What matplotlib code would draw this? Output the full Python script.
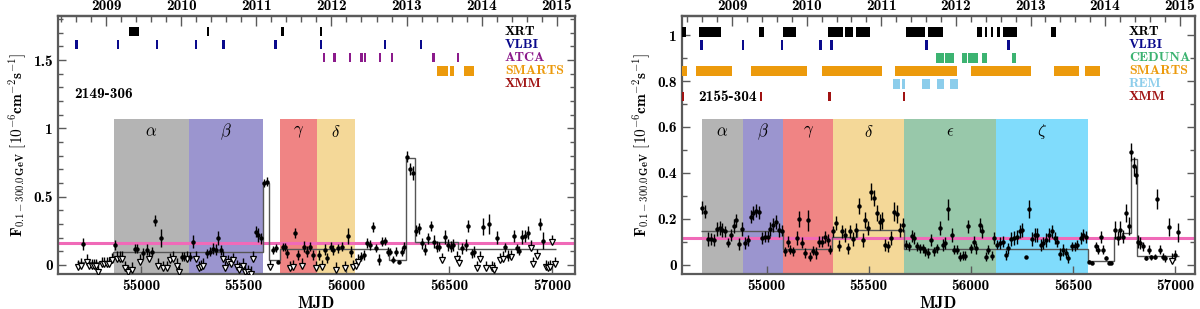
import numpy as np
import matplotlib
matplotlib.use("Agg")
import matplotlib.pyplot as plt
from matplotlib.ticker import MultipleLocator, FixedLocator, FuncFormatter

plt.rcParams['font.family'] = ['cmb10', 'DejaVu Serif']
plt.rcParams['mathtext.fontset'] = 'cm'
plt.rcParams['axes.unicode_minus'] = False

# ---------------- data: 2149-306 (left) ----------------
l_det_mjd = [54719, 54873, 54971, 54982, 55011, 55028, 55055, 55068, 55097, 55198, 55209, 55239, 55252,
             55320, 55336, 55352, 55365, 55377, 55388, 55560, 55571, 55584, 55599, 55615, 55641, 55657,
             55669, 55690, 55701, 55713, 55750, 55766, 55795, 55807, 55823, 55836, 55867, 55896, 55907,
             55924, 55936, 55961, 55977, 56006, 56021, 56071, 56086, 56102, 56115, 56131, 56144, 56160,
             56175, 56188, 56201, 56212, 56229, 56242, 56258, 56271, 56282, 56297, 56310, 56326, 56339,
             56354, 56370, 56383, 56396, 56410, 56427, 56440, 56453, 56480, 56493, 56508, 56521, 56565,
             56581, 56594, 56610, 56623, 56664, 56693, 56733, 56774, 56789, 56816, 56829, 56842, 56857,
             56870, 56883, 56943, 56956]
l_det_flux = [0.151, 0.146, 0.12, 0.12, 0.085, 0.11, 0.098, 0.325, 0.195, 0.061, 0.061, 0.061, 0.171,
              0.085, 0.098, 0.12, 0.11, 0.195, 0.11, 0.244, 0.22, 0.195, 0.598, 0.61, 0.11, 0.122,
              0.02, 0.134, 0.134, 0.085, 0.232, 0.073, 0.134, 0.098, 0.134, 0.073, 0.073, 0.11, 0.049,
              0.134, 0.11, 0.122, 0.134, 0.212, 0.098, 0.061, 0.073, 0.159, 0.146, 0.276, 0.122, 0.037,
              0.171, 0.178, 0.098, 0.098, 0.037, 0.098, 0.024, 0.098, 0.134, 0.793, 0.70, 0.675, 0.251,
              0.268, 0.159, 0.11, 0.195, 0.286, 0.171, 0.134, 0.134, 0.207, 0.146, 0.134, 0.146, 0.122,
              0.146, 0.286, 0.085, 0.098, 0.281, 0.30, 0.20, 0.129, 0.066, 0.212, 0.122, 0.105, 0.203,
              0.212, 0.237, 0.30, 0.178]
l_det_err = [0.045, 0.04, 0.035, 0.035, 0.04, 0.04, 0.035, 0.04, 0.065, 0.035, 0.035, 0.035, 0.045,
             0.035, 0.035, 0.04, 0.04, 0.05, 0.035, 0.04, 0.05, 0.04, 0.03, 0.035, 0.03, 0.03,
             0.0, 0.03, 0.03, 0.035, 0.035, 0.04, 0.04, 0.04, 0.035, 0.035, 0.04, 0.04, 0.035,
             0.035, 0.035, 0.035, 0.035, 0.055, 0.04, 0.035, 0.035, 0.035, 0.035, 0.035, 0.03, 0.04,
             0.035, 0.03, 0.03, 0.025, 0.025, 0.03, 0.0, 0.03, 0.035, 0.04, 0.045, 0.05, 0.04,
             0.04, 0.04, 0.04, 0.04, 0.035, 0.045, 0.04, 0.035, 0.05, 0.045, 0.04, 0.045, 0.04,
             0.045, 0.045, 0.035, 0.04, 0.06, 0.07, 0.045, 0.035, 0.04, 0.045, 0.035, 0.035, 0.05,
             0.045, 0.045, 0.045, 0.06]
l_ul_mjd = [54695, 54706, 54735, 54748, 54760, 54773, 54781, 54792, 54808, 54821, 54833, 54846, 54860,
            54885, 54898, 54906, 54922, 54938, 54955, 54995, 55041, 55084, 55109, 55125, 55141, 55157,
            55174, 55185, 55222, 55268, 55281, 55292, 55303, 55398, 55411, 55425, 55437, 55450, 55466,
            55479, 55495, 55506, 55523, 55534, 55547, 55628, 55725, 55738, 55782, 55852, 55880, 55949,
            55993, 56034, 56045, 56058, 56467, 56537, 56550, 56634, 56651, 56678, 56707, 56720, 56748,
            56761, 56802, 56897, 56910, 56927, 56970, 56980, 56991, 56999, 57016]
l_ul_val = [0.04, 0.05, 0.08, 0.045, 0.045, 0.045, 0.045, 0.0, 0.06, 0.06, 0.06, 0.06, 0.09,
            0.1, 0.1, 0.1, 0.03, 0.0, 0.02, 0.08, 0.1, 0.05, 0.03, 0.03, 0.09, 0.1,
            0.05, 0.0, 0.1, 0.1, 0.03, 0.04, 0.05, 0.1, 0.03, 0.075, 0.065, 0.09, 0.04,
            0.02, 0.05, 0.005, 0.0, -0.01, 0.1, 0.04, 0.03, 0.04, 0.05, 0.03, 0.04, 0.02,
            0.03, 0.04, 0.05, 0.08, 0.09, 0.1, 0.07, 0.03, 0.1, 0.03, 0.03, 0.02, 0.09,
            0.1, 0.11, 0.18, 0.06, 0.12, 0.04, 0.03, 0.04, 0.22, 0.06]
l_block_edges = [54690, 54866, 55596, 55622, 55675, 56205, 56290, 56335, 56545, 57020]
l_block_levels = [0.025, 0.092, 0.60, 0.035, 0.115, 0.04, 0.78, 0.165, 0.12]
l_mean = 0.163
l_periods = [(r'$\alpha$', 54869, 55234, '#b4b4b4'), (r'$\beta$', 55234, 55594, '#9b95cf'),
             (r'$\gamma$', 55677, 55857, '#f08484'), (r'$\delta$', 55857, 56042, '#f4d898')]
l_obs = [
    ('XRT', '#000000', [(54946, 54985), (55327, 55327), (55690, 55690), (55876, 55876)]),
    ('VLBI', '#0a0a8c', [(54687, 54687), (54887, 54887), (55079, 55079), (55268, 55268), (55401, 55401),
                         (55654, 55654), (55876, 55876), (56188, 56188), (56363, 56363)]),
    ('ATCA', '#8b1a8b', [(55892, 55892), (55941, 55941), (56018, 56018), (56074, 56074), (56090, 56090),
                         (56164, 56164), (56223, 56223), (56423, 56423), (56542, 56542)]),
    ('SMARTS', '#ec9a0c', [(56447, 56491), (56512, 56520), (56577, 56615)]),
    ('XMM', '#a01212', []),
]
l_obs_y = [1.708, 1.612, 1.516, 1.420, 1.324]

# ---------------- data: 2155-304 (right) ----------------
r_det_mjd = [54685, 54700, 54713, 54726, 54742, 54757, 54770, 54783, 54795, 54811, 54824, 54839, 54852,
             54865, 54881, 54896, 54909, 54922, 54936, 54949, 54962, 54979, 54993, 55006, 55019, 55034,
             55047, 55063, 55076, 55091, 55104, 55117, 55130, 55148, 55161, 55174, 55189, 55202, 55215,
             55230, 55242, 55259, 55272, 55286, 55300, 55311, 55327, 55340, 55357, 55370, 55384, 55397,
             55410, 55425, 55438, 55454, 55471, 55484, 55498, 55513, 55526, 55541, 55554, 55567, 55581,
             55594, 55609, 55622, 55638, 55653, 55666, 55683, 55696, 55710, 55723, 55736, 55751, 55764,
             55777, 55792, 55805, 55818, 55834, 55849, 55862, 55875, 55891, 55906, 55920, 55934, 55948,
             55960, 55973, 55989, 56002, 56015, 56028, 56044, 56057, 56074, 56087, 56103, 56116, 56131,
             56144, 56158, 56171, 56184, 56199, 56212, 56225, 56240, 56253, 56269, 56285, 56302, 56313,
             56326, 56342, 56354, 56370, 56383, 56396, 56411, 56424, 56437, 56452, 56465, 56478, 56494,
             56509, 56522, 56538, 56551, 56566, 56579, 56595, 56611, 56623, 56636, 56649, 56663, 56676,
             56689, 56706, 56720, 56733, 56748, 56761, 56774, 56787, 56800, 56809, 56818, 56831, 56844,
             56859, 56872, 56885, 56900, 56914, 56929, 56942, 56953, 56970, 56999, 57015]
r_det_flux = [0.249, 0.232, 0.112, 0.112, 0.109, 0.155, 0.159, 0.152, 0.145, 0.097, 0.13, 0.17, 0.193,
              0.091, 0.157, 0.094, 0.106, 0.21, 0.225, 0.236, 0.228, 0.116, 0.123, 0.123, 0.155, 0.174,
              0.188, 0.152, 0.149, 0.058, 0.101, 0.065, 0.058, 0.116, 0.199, 0.097, 0.051, 0.193, 0.036,
              0.062, 0.051, 0.101, 0.101, 0.12, 0.109, 0.065, 0.145, 0.181, 0.083, 0.145, 0.13, 0.072,
              0.145, 0.112, 0.152, 0.254, 0.109, 0.196, 0.159, 0.319, 0.29, 0.225, 0.188, 0.193, 0.087,
              0.08, 0.116, 0.232, 0.222, 0.152, 0.174, 0.087, 0.08, 0.126, 0.116, 0.08, 0.072, 0.072,
              0.058, 0.051, 0.109, 0.058, 0.072, 0.159, 0.087, 0.094, 0.242, 0.13, 0.065, 0.065, 0.036,
              0.039, 0.039, 0.167, 0.072, 0.101, 0.072, 0.174, 0.145, 0.036, 0.065, 0.039, 0.116, 0.087,
              0.094, 0.101, 0.043, 0.072, 0.112, 0.116, 0.12, 0.145, 0.152, 0.036, 0.242, 0.112, 0.13,
              0.13, 0.087, 0.094, 0.109, 0.13, 0.145, 0.116, 0.101, 0.048, 0.065, 0.051, 0.029, 0.08,
              0.08, 0.087, 0.116, 0.13, 0.12, 0.014, 0.01, 0.08, 0.065, 0.12, 0.065, 0.029, 0.01,
              0.007, 0.152, 0.116, 0.152, 0.123, 0.225, 0.17, 0.49, 0.428, 0.391, 0.101, 0.094, 0.08,
              0.029, 0.065, 0.033, 0.036, 0.286, 0.065, 0.036, 0.029, 0.164, 0.043, 0.141]
r_det_err = [0.03, 0.03, 0.03, 0.025, 0.025, 0.03, 0.03, 0.03, 0.025, 0.02, 0.025, 0.03, 0.03,
             0.025, 0.03, 0.025, 0.025, 0.03, 0.03, 0.03, 0.03, 0.025, 0.025, 0.025, 0.03, 0.03,
             0.03, 0.03, 0.025, 0.02, 0.025, 0.02, 0.02, 0.03, 0.035, 0.025, 0.02, 0.045, 0.02,
             0.02, 0.025, 0.025, 0.025, 0.025, 0.025, 0.02, 0.025, 0.03, 0.025, 0.03, 0.03, 0.025,
             0.03, 0.03, 0.03, 0.035, 0.03, 0.035, 0.03, 0.035, 0.035, 0.035, 0.035, 0.035, 0.025,
             0.025, 0.03, 0.04, 0.04, 0.03, 0.03, 0.02, 0.02, 0.025, 0.025, 0.02, 0.02, 0.02,
             0.02, 0.02, 0.025, 0.02, 0.02, 0.03, 0.025, 0.025, 0.045, 0.03, 0.02, 0.02, 0.02,
             0.02, 0.02, 0.03, 0.02, 0.025, 0.025, 0.03, 0.03, 0.02, 0.02, 0.02, 0.025, 0.02,
             0.025, 0.025, 0.02, 0.025, 0.03, 0.03, 0.03, 0.03, 0.03, 0.0, 0.04, 0.03, 0.03,
             0.03, 0.025, 0.025, 0.03, 0.03, 0.03, 0.025, 0.025, 0.025, 0.025, 0.02, 0.02, 0.02,
             0.02, 0.02, 0.025, 0.025, 0.025, 0.005, 0.005, 0.02, 0.02, 0.025, 0.02, 0.01, 0.005,
             0.005, 0.04, 0.03, 0.04, 0.03, 0.04, 0.04, 0.04, 0.04, 0.04, 0.03, 0.025, 0.02,
             0.01, 0.02, 0.01, 0.01, 0.045, 0.02, 0.015, 0.015, 0.04, 0.02, 0.04]
r_ul_mjd = [56986]
r_ul_val = [0.05]
r_block_edges = [54680, 55082, 55322, 55445, 55675, 56575, 56700, 56740, 56783, 56815, 57020]
r_block_levels = [0.149, 0.068, 0.12, 0.152, 0.07, 0.015, 0.12, 0.137, 0.46, 0.04]
r_mean = 0.116
r_periods = [(r'$\alpha$', 54683, 54884, '#b4b4b4'), (r'$\beta$', 54884, 55083, '#9b95cf'),
             (r'$\gamma$', 55083, 55324, '#f08484'), (r'$\delta$', 55324, 55675, '#f4d898'),
             (r'$\epsilon$', 55675, 56123, '#98c8aa'), (r'$\zeta$', 56123, 56574, '#80dcfc')]
r_obs = [
    ('XRT', '#000000', [(54588, 54600), (54677, 54713), (54716, 54740), (54744, 54770), (54971, 54982),
                        (55088, 55110), (55113, 55137), (55305, 55335), (55338, 55352), (55355, 55370),
                        (55390, 55399), (55409, 55419), (55446, 55465), (55468, 55482), (55485, 55500),
                        (55690, 55745), (55748, 55772), (55797, 55805), (55809, 55816), (55826, 55840),
                        (55844, 55859), (56038, 56049), (56074, 56074), (56105, 56105), (56137, 56137),
                        (56163, 56192), (56196, 56223), (56399, 56411)]),
    ('VLBI', '#0a0a8c', [(54681, 54681), (54884, 54884), (55075, 55075), (55264, 55264), (55319, 55319),
                         (55783, 55783), (56184, 56184)]),
    ('CEDUNA', '#3cb371', [(55837, 55848), (55853, 55865), (55881, 55892), (55898, 55911), (55963, 55976),
                           (55992, 56008), (56017, 56028), (56062, 56074), (56207, 56215)]),
    ('SMARTS', '#ec9a0c', [(54583, 54604), (54661, 54827), (54928, 55194), (55279, 55561), (55635, 55927),
                           (56008, 56110), (56113, 56240), (56245, 56289), (56413, 56510), (56516, 56522),
                           (56566, 56628)]),
    ('REM', '#8ccdeb', [(55626, 55632), (55640, 55646), (55668, 55674), (55769, 55780), (55785, 55797),
                        (55842, 55852), (55856, 55865), (55906, 55916), (55920, 55930)]),
    ('XMM', '#a01212', [(54591, 54591), (54974, 54974), (55308, 55308), (55674, 55674)]),
]
r_obs_y = [1.012, 0.957, 0.900, 0.845, 0.788, 0.732]

year_labels = ['2009', '2010', '2011', '2012', '2013', '2014', '2015']
year_mjd = [54832, 55197, 55562, 55927, 56293, 56658, 57023]

SPINE = '#5a5a5a'


def panel(ax, det_mjd, det_flux, det_err, ul_mjd, ul_val, edges, levels, mean, periods, obs, obs_y,
          ylim, xlim, shade_top, greek_y, bar_h, arrow_len, name, name_xy, legend_x, major_y, minor_y):
    ax.set_xlim(*xlim)
    ax.set_ylim(*ylim)
    for lab, a, b, col in periods:
        ax.fill_between([a, b], ylim[0], shade_top, color=col, lw=0, zorder=0)
        ax.text((a + b) / 2, greek_y, lab, ha='center', va='center', fontsize=12, zorder=5)
    ax.axhline(mean, color='#f06ab8', lw=2.2, zorder=1)
    ax.stairs(levels, edges, baseline=None, color='#555555', lw=1.0, zorder=2)
    ax.errorbar(det_mjd, det_flux, yerr=det_err, fmt='o', ms=2.2, color='k', ecolor='k',
                elinewidth=1.0, capsize=0, zorder=4)
    ul_val = np.asarray(ul_val)
    ax.vlines(ul_mjd, ul_val - arrow_len, ul_val, color='k', lw=1.0, zorder=4)
    ax.plot(ul_mjd, ul_val - arrow_len, linestyle='none', marker='v', ms=4.0, mfc='white',
            mec='k', mew=0.9, zorder=4)
    for (lab, col, ivs), y in zip(obs, obs_y):
        xr = [(a - 6, max(b - a, 0) + 12) for a, b in ivs]
        if xr:
            ax.broken_barh(xr, (y - bar_h / 2, bar_h), facecolors=col, lw=0, zorder=3)
        ax.text(legend_x, y, lab, color=col, fontsize=10, ha='left', va='center', zorder=5)
    ax.text(name_xy[0], name_xy[1], name, fontsize=11, ha='left', va='center', zorder=5)

    ax.yaxis.set_major_locator(MultipleLocator(major_y))
    ax.yaxis.set_minor_locator(MultipleLocator(minor_y))
    ax.yaxis.set_major_formatter(FuncFormatter(lambda v, p: '%g' % round(v, 3)))
    ax.xaxis.set_major_locator(MultipleLocator(500))
    ax.xaxis.set_minor_locator(MultipleLocator(100))
    ax.tick_params(axis='both', which='both', direction='in', colors=SPINE, labelcolor='k',
                   labelsize=11, width=1.0)
    ax.tick_params(axis='y', which='both', right=True)
    ax.tick_params(axis='x', which='both', top=False)
    ax.tick_params(which='major', length=6)
    ax.tick_params(which='minor', length=3.5)
    ax.tick_params(axis='x', which='minor', length=0)
    for s in ax.spines.values():
        s.set_color(SPINE)
        s.set_linewidth(1.6)
    ax.set_xlabel('MJD', fontsize=12, labelpad=2)
    ax.set_ylabel(r'$\mathbf{F_{0.1-300.0\,GeV}\ [10^{-6}cm^{-2}s^{-1}]}$', fontsize=11, labelpad=4)

    top = ax.secondary_xaxis('top')
    top.xaxis.set_major_locator(FixedLocator(year_mjd))
    top.set_xticklabels(year_labels)
    minors = []
    for i in range(len(year_mjd) - 1):
        step = (year_mjd[i + 1] - year_mjd[i]) / 5.0
        minors += [year_mjd[i] + step * k for k in range(1, 5)]
    minors += [year_mjd[0] - (year_mjd[1] - year_mjd[0]) / 5.0 * k for k in range(1, 5)]
    top.xaxis.set_minor_locator(FixedLocator(minors))
    top.tick_params(which='both', direction='in', colors=SPINE, labelcolor='k', labelsize=11, pad=2)
    top.tick_params(which='major', length=7, width=1.0)
    top.tick_params(which='minor', length=4, width=1.0)
    top.spines['top'].set_color(SPINE)
    top.spines['top'].set_linewidth(1.6)


fig = plt.figure(figsize=(12, 3.09), dpi=100)
axL = fig.add_axes([0.0483, 0.1133, 0.4309, 0.8349])
axR = fig.add_axes([0.5683, 0.1133, 0.4275, 0.8349])

panel(axL, l_det_mjd, l_det_flux, l_det_err, l_ul_mjd, l_ul_val, l_block_edges, l_block_levels,
      l_mean, l_periods, l_obs, l_obs_y, (-0.066, 1.822), (54596, 57113), 1.067, 0.976, 0.068,
      0.055, '2149-306', (54674, 1.25), 56772, 0.5, 0.1)
panel(axR, r_det_mjd, r_det_flux, r_det_err, r_ul_mjd, r_ul_val, r_block_edges, r_block_levels,
      r_mean, r_periods, r_obs, r_obs_y, (-0.04, 1.083), (54586, 57098), 0.633, 0.58, 0.042,
      0.032, '2155-304', (54668, 0.732), 56774, 0.2, 0.1)

fig.savefig('out.png', dpi=100)
